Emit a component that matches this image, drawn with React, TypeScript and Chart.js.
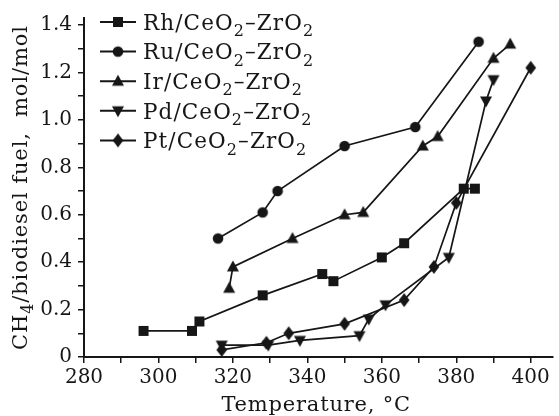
import React, { useEffect, useRef } from 'react';
import { Chart, registerables } from 'chart.js';

Chart.register(...registerables);

const FONT = '"DejaVu Serif", "Liberation Serif", serif';
const INK = '#161616';

// ---- data ----
const seriesLabels = ['Rh/CeO_2–ZrO_2', 'Ru/CeO_2–ZrO_2', 'Ir/CeO_2–ZrO_2', 'Pd/CeO_2–ZrO_2', 'Pt/CeO_2–ZrO_2'];
const seriesMarkers = ['square', 'circle', 'triUp', 'triDown', 'diamond'];

const rhT = [296, 309, 311, 328, 344, 347, 360, 366, 382, 385];
const rhV = [0.11, 0.11, 0.15, 0.26, 0.35, 0.32, 0.42, 0.48, 0.71, 0.71];

const ruT = [316, 328, 332, 350, 369, 386];
const ruV = [0.50, 0.61, 0.70, 0.89, 0.97, 1.33];

const irT = [319, 320, 336, 350, 355, 371, 375, 390, 394.5];
const irV = [0.29, 0.38, 0.50, 0.60, 0.61, 0.89, 0.93, 1.26, 1.32];

const pdT = [317, 329.5, 338, 354, 356.5, 361, 378, 388, 390];
const pdV = [0.05, 0.05, 0.07, 0.09, 0.16, 0.22, 0.42, 1.08, 1.17];

const ptT = [317, 329, 335, 350, 366, 374, 380, 400];
const ptV = [0.03, 0.06, 0.10, 0.14, 0.24, 0.38, 0.65, 1.22];

const xTickValues = [280, 290, 300, 310, 320, 330, 340, 350, 360, 370, 380, 390, 400];
const yTickValues = [0, 0.1, 0.2, 0.3, 0.4, 0.5, 0.6, 0.7, 0.8, 0.9, 1.0, 1.1, 1.2, 1.3, 1.4];

const xTitle = 'Temperature, °C';
const yTitle = 'CH_4/biodiesel fuel,  mol/mol';

function makeMarker(shape: string): HTMLCanvasElement {
  const c = document.createElement('canvas');
  const w = 16, h = 16;
  c.width = w; c.height = h;
  const g = c.getContext('2d')!;
  g.fillStyle = INK;
  const cx = w / 2, cy = h / 2;
  g.beginPath();
  if (shape === 'square') g.rect(cx - 5, cy - 5, 10, 10);
  else if (shape === 'circle') g.arc(cx, cy, 5.3, 0, Math.PI * 2);
  else if (shape === 'triUp') { g.moveTo(cx, cy - 6.5); g.lineTo(cx + 6, cy + 4.5); g.lineTo(cx - 6, cy + 4.5); }
  else if (shape === 'triDown') { g.moveTo(cx, cy + 6.5); g.lineTo(cx + 6, cy - 4.5); g.lineTo(cx - 6, cy - 4.5); }
  else { g.moveTo(cx, cy - 7); g.lineTo(cx + 5.3, cy); g.lineTo(cx, cy + 7); g.lineTo(cx - 5.3, cy); }
  g.closePath();
  g.fill();
  return c;
}

function drawRich(ctx: CanvasRenderingContext2D, text: string, x: number, y: number, size: number, spacing: number, measureOnly = false): number {
  // "_d" marks a subscript digit
  const c: any = ctx;
  c.letterSpacing = `${spacing}px`;
  let cx = x;
  let i = 0;
  while (i < text.length) {
    if (text[i] === '_' && i + 1 < text.length) {
      ctx.font = `${Math.round(size * 0.74)}px ${FONT}`;
      if (!measureOnly) ctx.fillText(text[i + 1], cx, y + size * 0.3);
      cx += ctx.measureText(text[i + 1]).width;
      i += 2;
    } else {
      let j = i;
      while (j < text.length && text[j] !== '_') j++;
      const seg = text.slice(i, j);
      ctx.font = `${size}px ${FONT}`;
      if (!measureOnly) ctx.fillText(seg, cx, y);
      cx += ctx.measureText(seg).width;
      i = j;
    }
  }
  c.letterSpacing = '0px';
  return cx - x;
}

export default function App() {
  const ref = useRef<HTMLCanvasElement | null>(null);

  useEffect(() => {
    const canvas = ref.current;
    if (!canvas) return;
    const markers = seriesMarkers.map(makeMarker);
    const tv = [rhT, ruT, irT, pdT, ptT];
    const vv = [rhV, ruV, irV, pdV, ptV];

    const datasets = seriesLabels.map((label, k) => ({
      label,
      data: tv[k].map((x, i) => ({ x, y: vv[k][i] })),
      showLine: true,
      borderColor: INK,
      backgroundColor: INK,
      borderWidth: 1.7,
      pointStyle: markers[k],
      pointRadius: 5,
      tension: 0,
    }));

    const overlay = {
      id: 'overlay',
      afterDraw(chart: any) {
        const ctx = chart.ctx as CanvasRenderingContext2D;
        const ca = chart.chartArea;
        ctx.save();
        ctx.fillStyle = INK;
        ctx.strokeStyle = INK;
        ctx.textBaseline = 'alphabetic';
        // legend
        const fs = 21.5;
        seriesLabels.forEach((label, k) => {
          const ry = 22 + k * 29.6;
          ctx.lineWidth = 2;
          ctx.beginPath();
          ctx.moveTo(100, ry);
          ctx.lineTo(136, ry);
          ctx.stroke();
          const m = markers[k];
          ctx.drawImage(m, 118 - m.width / 2, ry - m.height / 2);
          drawRich(ctx, label, 143, ry + fs * 0.36, fs, 1.1);
        });
        // x title
        const xw = drawRich(ctx, xTitle, 0, 0, 21, 0.8, true);
        drawRich(ctx, xTitle, (ca.left + ca.right) / 2 - 2 - xw / 2, 411, 21, 0.8);
        // y title (rotated)
        const cyMid = (ca.top + ca.bottom) / 2;
        ctx.translate(27, cyMid);
        ctx.rotate(-Math.PI / 2);
        const w = drawRich(ctx, yTitle, 0, 0, 21, 0.9, true);
        drawRich(ctx, yTitle, -w / 2, 0, 21, 0.9);
        ctx.restore();
      },
    };

    const chart = new Chart(canvas, {
      type: 'scatter',
      data: { datasets },
      plugins: [overlay],
      options: {
        animation: false,
        responsive: false,
        maintainAspectRatio: false,
        layout: { padding: { top: 13, right: 0, left: 0, bottom: 0 } },
        plugins: { legend: { display: false }, tooltip: { enabled: false } },
        scales: {
          x: {
            type: 'linear',
            min: 280,
            max: 405.8,
            afterBuildTicks: (s: any) => { s.ticks = xTickValues.map((value) => ({ value })); },
            afterFit: (s: any) => { s.height = 59; },
            ticks: {
              callback: (v: any) => (Math.round(v) % 20 === 0 ? String(v) : ''),
              font: { family: FONT, size: 20 },
              color: INK,
              padding: 3,
              maxRotation: 0,
              autoSkip: false,
            },
            grid: { drawOnChartArea: false, drawTicks: true, tickLength: 6, color: INK, lineWidth: 1.5 },
            border: { display: true, color: INK, width: 2 },
            title: { display: false },
          },
          y: {
            type: 'linear',
            min: 0,
            max: 1.43,
            afterBuildTicks: (s: any) => { s.ticks = yTickValues.map((value) => ({ value })); },
            afterFit: (s: any) => { s.width = 84; },
            ticks: {
              callback: (v: any) => {
                const t = Math.round(v * 10);
                if (t % 2 !== 0) return '';
                return t === 0 ? '0' : (t / 10).toFixed(1);
              },
              font: { family: FONT, size: 20 },
              color: INK,
              padding: 6,
              autoSkip: false,
            },
            grid: { drawOnChartArea: false, drawTicks: true, tickLength: 6, color: INK, lineWidth: 1.5 },
            border: { display: true, color: INK, width: 2 },
            title: { display: false },
          },
        },
      },
    } as any);
    return () => chart.destroy();
  }, []);

  return (
    <div style={{ position: 'absolute', left: 0, top: 0, width: 559, height: 416, background: '#fff' }}>
      <canvas ref={ref} width={559} height={416} style={{ display: 'block', width: 559, height: 416 }} />
    </div>
  );
}
